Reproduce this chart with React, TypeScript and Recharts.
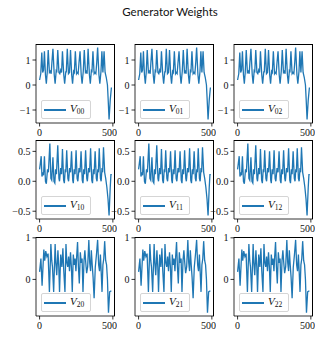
import React from "react";
import { LineChart, Line, XAxis, YAxis } from "recharts";

// index positions (vertices) and values, one set per row
const row0X = [0, 8, 15, 21, 27, 33, 40, 46, 52, 59, 67, 73, 79, 84, 91, 100, 106, 113, 117, 124, 132, 138, 144, 150, 156, 165, 171, 179, 182, 189, 197, 204, 211, 219, 225, 232, 237, 244, 252, 257, 263, 269, 276, 284, 290, 298, 305, 313, 319, 324, 331, 340, 346, 353, 357, 364, 372, 378, 384, 390, 396, 405, 411, 419, 425, 432, 440, 447, 455, 463, 468, 474, 482, 490];
const row0Y = [0.2, 0.45, 1.3, 0.5, 0.6, 1.35, 0.4, 0.05, 0.5, 1.4, 0.5, 0.55, 0.45, 0.9, 1.45, 0.4, 0.05, 0.55, 0.5, 1.4, 0.5, 0.45, 0.6, 0.5, 1.35, 0.4, 0.05, 0.55, 0.5, 1.45, 0.45, 0.5, 1.4, 0.4, 0.05, 0.55, 0.5, 1.35, 0.45, 0.5, 0.45, 0.9, 1.35, 0.4, 0.05, 0.55, 1.4, 0.5, 0.55, 0.45, 1.45, 0.4, 0.05, 0.55, 0.5, 1.35, 0.45, 0.5, 0.45, 0.9, 1.5, 0.4, 0.05, 0.55, 1.35, 0.5, 1.35, 0.5, 0.3, 0.0, -0.6, -1.38, -0.6, -0.1];

const row1X = [0, 5, 11, 16, 22, 27, 33, 40, 46, 54, 60, 70, 77, 83, 91, 98, 104, 109, 115, 124, 132, 136, 144, 150, 156, 164, 169, 175, 179, 185, 193, 198, 205, 211, 218, 226, 230, 236, 242, 249, 256, 261, 269, 276, 283, 291, 296, 301, 307, 314, 322, 326, 334, 341, 348, 356, 361, 367, 372, 379, 387, 392, 397, 401, 407, 415, 420, 426, 430, 436, 444, 451, 459, 467, 474, 482, 487, 490];
const row1Y = [0.2, 0.3, 0.42, 0.08, 0.15, 0.1, 0.42, 0.0, -0.04, 0.2, 0.15, 0.63, 0.05, 0.02, 0.4, 0.0, -0.03, 0.2, 0.12, 0.6, 0.05, 0.0, 0.22, 0.12, 0.54, 0.02, -0.03, 0.2, 0.15, 0.52, 0.05, 0.0, 0.22, 0.15, 0.5, 0.02, -0.03, 0.2, 0.12, 0.52, 0.05, 0.0, 0.22, 0.15, 0.5, 0.02, -0.03, 0.2, 0.12, 0.52, 0.05, 0.0, 0.22, 0.15, 0.55, 0.02, -0.03, 0.2, 0.12, 0.5, 0.05, 0.0, 0.2, 0.15, 0.55, 0.05, 0.0, 0.22, 0.15, 0.57, 0.15, 0.05, -0.1, -0.3, -0.57, -0.1, 0.12, 0.1];

const row2X = [0, 9, 17, 29, 35, 42, 50, 58, 67, 77, 83, 88, 96, 106, 111, 117, 125, 131, 136, 144, 152, 159, 165, 173, 180, 186, 192, 198, 204, 211, 217, 223, 230, 236, 242, 248, 253, 259, 265, 271, 278, 284, 290, 296, 303, 309, 315, 321, 328, 336, 342, 348, 353, 359, 365, 372, 380, 388, 396, 403, 409, 415, 420, 426, 432, 438, 444, 451, 457, 463, 470, 478, 485, 490];
const row2Y = [0.18, 0.5, -0.15, 0.72, 0.45, 0.68, 0.55, 0.62, -0.3, 0.85, 0.45, 0.3, -0.3, 0.85, 0.4, 0.1, 0.7, 0.3, -0.3, 0.6, 0.3, 0.75, 0.2, -0.3, 0.85, 0.4, 0.3, 0.55, 0.2, 0.65, 0.3, -0.3, 0.6, 0.35, 0.5, 0.2, 0.55, 0.9, 0.3, -0.1, 0.65, 0.4, 0.5, -0.3, 0.45, 0.7, 0.4, 0.15, 0.3, 0.95, 0.4, 0.2, 0.7, 0.35, 0.05, -0.45, 0.3, 0.6, 0.95, 0.35, 0.2, 0.6, 0.2, -0.3, 0.35, 0.5, 0.92, 0.45, 0.35, 0.0, -0.8, -0.3, -0.28, -0.28];

const rowTicks = [[-1, 0, 1], [-0.5, 0, 0.5], [0, 1]];
const rowTickLabels = [["−1", "0", "1"], ["−0.5", "0.0", "0.5"], ["0", "1"]];
const rowDomains: [number, number][] = [[-1.52, 1.64], [-0.63, 0.69], [-0.88, 1.02]];
const xTicks = [0, 500];
const xDomain: [number, number] = [-24.5, 514.5];
const legendNames = [["00", "01", "02"], ["10", "11", "12"], ["20", "21", "22"]];

const rowX = [row0X, row1X, row2X];
const rowY = [row0Y, row1Y, row2Y];

const BLUE = "#1f77b4";
const SERIF = "'Liberation Serif', 'DejaVu Serif', serif";
const colLeft = [36, 135, 234];
const rowTop = [44, 140, 237];
const BOX_W = 79;
const BOX_H = 79;
const YW = 34;
const XH = 22;
const MT = 6;

function Panel({ r, c }: { r: number; c: number }) {
  const data = rowX[r].map((x, i) => ({ x, y: rowY[r][i] }));
  const ticks = rowTicks[r];
  const labels = rowTickLabels[r];
  const tickStyle = { fill: "#111", fontSize: 10, fontFamily: SERIF };
  const axisStroke = { stroke: "#000", strokeWidth: 0.8 };
  return (
    <div style={{ position: "absolute", left: colLeft[c] - YW, top: rowTop[r] - MT }}>
      <LineChart width={YW + BOX_W + 2} height={MT + BOX_H + XH} data={data}
        margin={{ top: MT, right: 2, bottom: 0, left: 0 }}>
        <XAxis dataKey="x" type="number" domain={xDomain} ticks={xTicks} height={XH}
          tick={tickStyle} tickSize={3.5} tickMargin={2} axisLine={axisStroke} tickLine={axisStroke} />
        <YAxis type="number" domain={rowDomains[r]} ticks={ticks} width={YW} interval={0}
          tickFormatter={(v: number) => labels[ticks.indexOf(v)] ?? String(v)}
          tick={tickStyle} tickSize={3.5} tickMargin={2} axisLine={axisStroke} tickLine={axisStroke} />
        <Line dataKey="y" type="linear" stroke={BLUE} strokeWidth={1.3} dot={false} isAnimationActive={false} />
      </LineChart>
      {/* top and right spines */}
      <div style={{
        position: "absolute", left: YW, top: MT, width: BOX_W, height: BOX_H, boxSizing: "border-box",
        borderTop: "1px solid #000", borderRight: "1px solid #000", pointerEvents: "none",
      }} />
      <div style={{
        position: "absolute", left: YW + 5, top: MT + BOX_H - 4 - 19, width: 50, height: 19,
        boxSizing: "border-box", border: "1px solid #d5d5d5", borderRadius: 2,
        background: "rgba(255,255,255,0.8)",
      }}>
        <div style={{ position: "absolute", left: 2, top: 8, width: 22, height: 1.5, background: BLUE }} />
        <div style={{ position: "absolute", left: 28, top: 1, fontFamily: SERIF, fontSize: 11, color: "#111", whiteSpace: "nowrap" }}>
          <i>V</i><span style={{ fontSize: 7.5, position: "relative", top: 2 }}>{legendNames[r][c]}</span>
        </div>
      </div>
    </div>
  );
}

export default function App() {
  return (
    <div style={{ position: "absolute", left: 0, top: 0, width: 326, height: 340, background: "#fff", overflow: "hidden" }}>
      <div style={{ position: "absolute", left: 0, width: 340, top: 5, textAlign: "center", fontFamily: "Lato, 'Open Sans', sans-serif", fontSize: 11.5, color: "#111" }}>
        Generator Weights
      </div>
      {[0, 1, 2].map((r) => [0, 1, 2].map((c) => <Panel key={`${r}${c}`} r={r} c={c} />))}
    </div>
  );
}
